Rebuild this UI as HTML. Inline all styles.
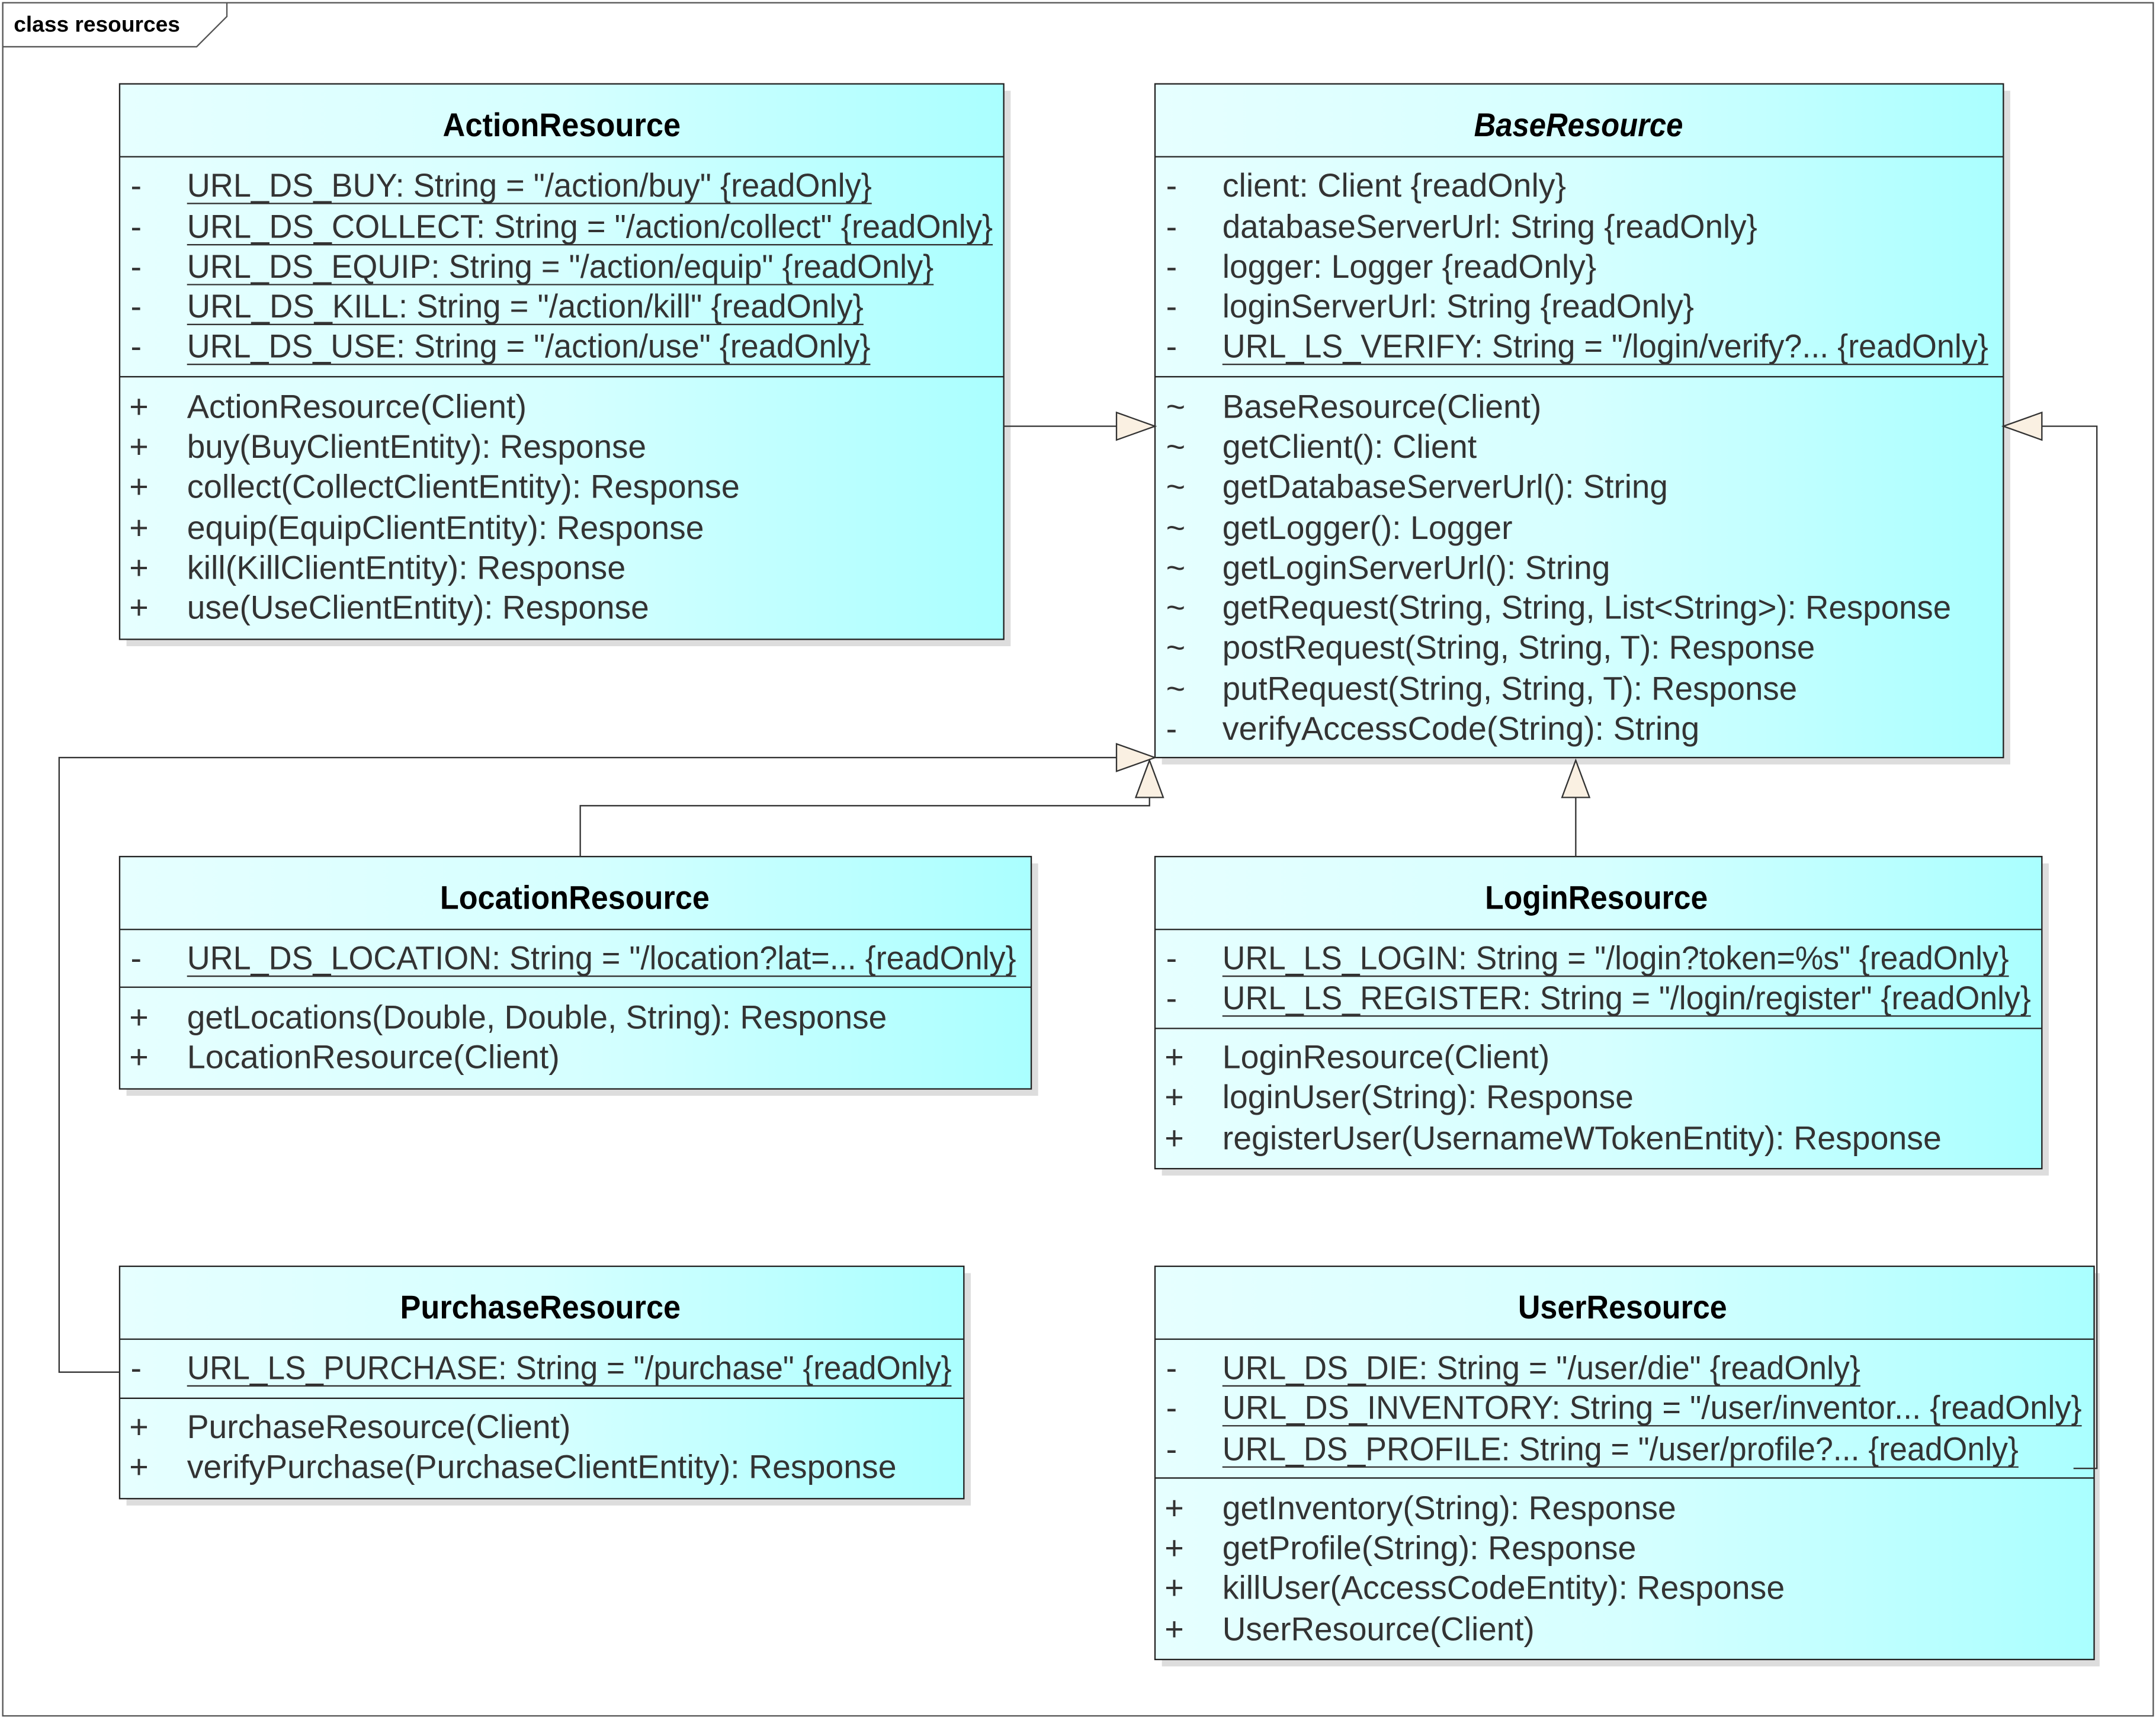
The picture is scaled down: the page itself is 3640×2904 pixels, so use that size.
<!DOCTYPE html>
<html><head><meta charset="utf-8"><style>
html,body{margin:0;padding:0;background:#fff;}
svg{display:block;}
text{font-family:"Liberation Sans",sans-serif;fill:#333;font-size:24px;}
.t{font-weight:bold;fill:#000;}
</style></head><body>
<svg width="3640" height="2904" viewBox="0 0 1568 1251" preserveAspectRatio="none" xmlns="http://www.w3.org/2000/svg">
<defs>
<linearGradient id="g" x1="0" y1="0" x2="1" y2="0">
<stop offset="0" stop-color="#e6ffff"/><stop offset="0.5" stop-color="#d6ffff"/><stop offset="1" stop-color="#aaffff"/>
</linearGradient>
</defs>
<rect x="0" y="0" width="1568" height="1251" fill="#fff"/>
<!-- frame -->
<rect x="2" y="2" width="1564" height="1246" fill="none" stroke="#555" stroke-width="1"/>
<polygon points="2,2 165,2 165,12 143,34 2,34" fill="#fff" stroke="#555" stroke-width="1"/>
<text x="10" y="23" style="font-size:16px;font-weight:bold;fill:#000">class resources</text>

<g stroke="#222" stroke-width="1">
<!-- shadows -->
<g fill="#ddd" stroke="none">
<rect x="92" y="66" width="643" height="404"/>
<rect x="845" y="66" width="617" height="490"/>
<rect x="92" y="628" width="663" height="169"/>
<rect x="845" y="628" width="645" height="227"/>
<rect x="92" y="926" width="614" height="169"/>
<rect x="845" y="926" width="682" height="286"/>
</g>
<!-- boxes -->
<rect x="87" y="61" width="643" height="404" fill="url(#g)"/>
<line x1="87" y1="114" x2="730" y2="114"/><line x1="87" y1="274" x2="730" y2="274"/>
<rect x="840" y="61" width="617" height="490" fill="url(#g)"/>
<line x1="840" y1="114" x2="1457" y2="114"/><line x1="840" y1="274" x2="1457" y2="274"/>
<rect x="87" y="623" width="663" height="169" fill="url(#g)"/>
<line x1="87" y1="676" x2="750" y2="676"/><line x1="87" y1="718" x2="750" y2="718"/>
<rect x="840" y="623" width="645" height="227" fill="url(#g)"/>
<line x1="840" y1="676" x2="1485" y2="676"/><line x1="840" y1="748" x2="1485" y2="748"/>
<rect x="87" y="921" width="614" height="169" fill="url(#g)"/>
<line x1="87" y1="974" x2="701" y2="974"/><line x1="87" y1="1017" x2="701" y2="1017"/>
<rect x="840" y="921" width="683" height="286" fill="url(#g)"/>
<line x1="840" y1="974" x2="1523" y2="974"/><line x1="840" y1="1075" x2="1523" y2="1075"/>
</g>

<!-- connectors -->
<g stroke="#333" stroke-width="1" fill="none">
<polyline points="730,310 812,310"/>
<polyline points="87,998 43,998 43,551 812,551"/>
<polyline points="422,623 422,586 836,586 836,580"/>
<polyline points="1146,623 1146,580"/>
<polyline points="1508,1068 1525,1068 1525,310 1485,310"/>
</g>
<g fill="#faf0e2" stroke="#333" stroke-width="1">
<polygon points="840,310 812,300 812,320"/>
<polygon points="840,551 812,541 812,561"/>
<polygon points="836,553 826,580 846,580"/>
<polygon points="1146,553 1136,580 1156,580"/>
<polygon points="1457,310 1485,300 1485,320"/>
</g>

<!-- titles -->
<text class="t" x="322" y="99" textLength="173" lengthAdjust="spacingAndGlyphs">ActionResource</text>
<text class="t" x="1072" y="99" textLength="152" lengthAdjust="spacingAndGlyphs" font-style="italic">BaseResource</text>
<text class="t" x="320" y="661" textLength="196" lengthAdjust="spacingAndGlyphs">LocationResource</text>
<text class="t" x="1080" y="661" textLength="162" lengthAdjust="spacingAndGlyphs">LoginResource</text>
<text class="t" x="291" y="959" textLength="204" lengthAdjust="spacingAndGlyphs">PurchaseResource</text>
<text class="t" x="1104" y="959" textLength="152" lengthAdjust="spacingAndGlyphs">UserResource</text>

<!-- ActionResource -->
<g>
<text x="95" y="143">-</text><text x="136" y="143" textLength="498" lengthAdjust="spacingAndGlyphs">URL_DS_BUY: String = "/action/buy" {readOnly}</text>
<text x="95" y="173">-</text><text x="136" y="173" textLength="586" lengthAdjust="spacingAndGlyphs">URL_DS_COLLECT: String = "/action/collect" {readOnly}</text>
<text x="95" y="202">-</text><text x="136" y="202" textLength="543" lengthAdjust="spacingAndGlyphs">URL_DS_EQUIP: String = "/action/equip" {readOnly}</text>
<text x="95" y="231">-</text><text x="136" y="231" textLength="492" lengthAdjust="spacingAndGlyphs">URL_DS_KILL: String = "/action/kill" {readOnly}</text>
<text x="95" y="260">-</text><text x="136" y="260" textLength="497" lengthAdjust="spacingAndGlyphs">URL_DS_USE: String = "/action/use" {readOnly}</text>
<text x="94" y="304">+</text><text x="136" y="304" textLength="247" lengthAdjust="spacingAndGlyphs">ActionResource(Client)</text>
<text x="94" y="333">+</text><text x="136" y="333" textLength="334" lengthAdjust="spacingAndGlyphs">buy(BuyClientEntity): Response</text>
<text x="94" y="362">+</text><text x="136" y="362" textLength="402" lengthAdjust="spacingAndGlyphs">collect(CollectClientEntity): Response</text>
<text x="94" y="392">+</text><text x="136" y="392" textLength="376" lengthAdjust="spacingAndGlyphs">equip(EquipClientEntity): Response</text>
<text x="94" y="421">+</text><text x="136" y="421" textLength="319" lengthAdjust="spacingAndGlyphs">kill(KillClientEntity): Response</text>
<text x="94" y="450">+</text><text x="136" y="450" textLength="336" lengthAdjust="spacingAndGlyphs">use(UseClientEntity): Response</text>
</g>
<g stroke="#333" stroke-width="1">
<line x1="136" y1="148" x2="634" y2="148"/><line x1="136" y1="178" x2="722" y2="178"/>
<line x1="136" y1="207" x2="679" y2="207"/><line x1="136" y1="236" x2="628" y2="236"/>
<line x1="136" y1="265" x2="633" y2="265"/>
</g>

<!-- BaseResource -->
<g>
<text x="848" y="143">-</text><text x="889" y="143" textLength="250" lengthAdjust="spacingAndGlyphs">client: Client {readOnly}</text>
<text x="848" y="173">-</text><text x="889" y="173" textLength="389" lengthAdjust="spacingAndGlyphs">databaseServerUrl: String {readOnly}</text>
<text x="848" y="202">-</text><text x="889" y="202" textLength="272" lengthAdjust="spacingAndGlyphs">logger: Logger {readOnly}</text>
<text x="848" y="231">-</text><text x="889" y="231" textLength="343" lengthAdjust="spacingAndGlyphs">loginServerUrl: String {readOnly}</text>
<text x="848" y="260">-</text><text x="889" y="260" textLength="557" lengthAdjust="spacingAndGlyphs">URL_LS_VERIFY: String = "/login/verify?... {readOnly}</text>
<text x="848" y="304">~</text><text x="889" y="304" textLength="232" lengthAdjust="spacingAndGlyphs">BaseResource(Client)</text>
<text x="848" y="333">~</text><text x="889" y="333" textLength="185" lengthAdjust="spacingAndGlyphs">getClient(): Client</text>
<text x="848" y="362">~</text><text x="889" y="362" textLength="324" lengthAdjust="spacingAndGlyphs">getDatabaseServerUrl(): String</text>
<text x="848" y="392">~</text><text x="889" y="392" textLength="211" lengthAdjust="spacingAndGlyphs">getLogger(): Logger</text>
<text x="848" y="421">~</text><text x="889" y="421" textLength="282" lengthAdjust="spacingAndGlyphs">getLoginServerUrl(): String</text>
<text x="848" y="450">~</text><text x="889" y="450" textLength="530" lengthAdjust="spacingAndGlyphs">getRequest(String, String, List&lt;String&gt;): Response</text>
<text x="848" y="479">~</text><text x="889" y="479" textLength="431" lengthAdjust="spacingAndGlyphs">postRequest(String, String, T): Response</text>
<text x="848" y="509">~</text><text x="889" y="509" textLength="418" lengthAdjust="spacingAndGlyphs">putRequest(String, String, T): Response</text>
<text x="848" y="538">-</text><text x="889" y="538" textLength="347" lengthAdjust="spacingAndGlyphs">verifyAccessCode(String): String</text>
</g>
<line x1="889" y1="265" x2="1446" y2="265" stroke="#333"/>

<!-- LocationResource -->
<text x="95" y="705">-</text><text x="136" y="705" textLength="603" lengthAdjust="spacingAndGlyphs">URL_DS_LOCATION: String = "/location?lat=... {readOnly}</text>
<line x1="136" y1="710" x2="739" y2="710" stroke="#333"/>
<text x="94" y="748">+</text><text x="136" y="748" textLength="509" lengthAdjust="spacingAndGlyphs">getLocations(Double, Double, String): Response</text>
<text x="94" y="777">+</text><text x="136" y="777" textLength="271" lengthAdjust="spacingAndGlyphs">LocationResource(Client)</text>

<!-- LoginResource -->
<text x="848" y="705">-</text><text x="889" y="705" textLength="572" lengthAdjust="spacingAndGlyphs">URL_LS_LOGIN: String = "/login?token=%s" {readOnly}</text>
<text x="848" y="734">-</text><text x="889" y="734" textLength="588" lengthAdjust="spacingAndGlyphs">URL_LS_REGISTER: String = "/login/register" {readOnly}</text>
<line x1="889" y1="710" x2="1461" y2="710" stroke="#333"/>
<line x1="889" y1="739" x2="1477" y2="739" stroke="#333"/>
<text x="847" y="777">+</text><text x="889" y="777" textLength="238" lengthAdjust="spacingAndGlyphs">LoginResource(Client)</text>
<text x="847" y="806">+</text><text x="889" y="806" textLength="299" lengthAdjust="spacingAndGlyphs">loginUser(String): Response</text>
<text x="847" y="836">+</text><text x="889" y="836" textLength="523" lengthAdjust="spacingAndGlyphs">registerUser(UsernameWTokenEntity): Response</text>

<!-- PurchaseResource -->
<text x="95" y="1003">-</text><text x="136" y="1003" textLength="556" lengthAdjust="spacingAndGlyphs">URL_LS_PURCHASE: String = "/purchase" {readOnly}</text>
<line x1="136" y1="1008" x2="692" y2="1008" stroke="#333"/>
<text x="94" y="1046">+</text><text x="136" y="1046" textLength="279" lengthAdjust="spacingAndGlyphs">PurchaseResource(Client)</text>
<text x="94" y="1075">+</text><text x="136" y="1075" textLength="516" lengthAdjust="spacingAndGlyphs">verifyPurchase(PurchaseClientEntity): Response</text>

<!-- UserResource -->
<text x="848" y="1003">-</text><text x="889" y="1003" textLength="464" lengthAdjust="spacingAndGlyphs">URL_DS_DIE: String = "/user/die" {readOnly}</text>
<text x="848" y="1032">-</text><text x="889" y="1032" textLength="625" lengthAdjust="spacingAndGlyphs">URL_DS_INVENTORY: String = "/user/inventor... {readOnly}</text>
<text x="848" y="1062">-</text><text x="889" y="1062" textLength="579" lengthAdjust="spacingAndGlyphs">URL_DS_PROFILE: String = "/user/profile?... {readOnly}</text>
<line x1="889" y1="1008" x2="1353" y2="1008" stroke="#333"/>
<line x1="889" y1="1037" x2="1514" y2="1037" stroke="#333"/>
<line x1="889" y1="1067" x2="1468" y2="1067" stroke="#333"/>
<text x="847" y="1105">+</text><text x="889" y="1105" textLength="330" lengthAdjust="spacingAndGlyphs">getInventory(String): Response</text>
<text x="847" y="1134">+</text><text x="889" y="1134" textLength="301" lengthAdjust="spacingAndGlyphs">getProfile(String): Response</text>
<text x="847" y="1163">+</text><text x="889" y="1163" textLength="409" lengthAdjust="spacingAndGlyphs">killUser(AccessCodeEntity): Response</text>
<text x="847" y="1193">+</text><text x="889" y="1193" textLength="227" lengthAdjust="spacingAndGlyphs">UserResource(Client)</text>
</svg>
</body></html>
